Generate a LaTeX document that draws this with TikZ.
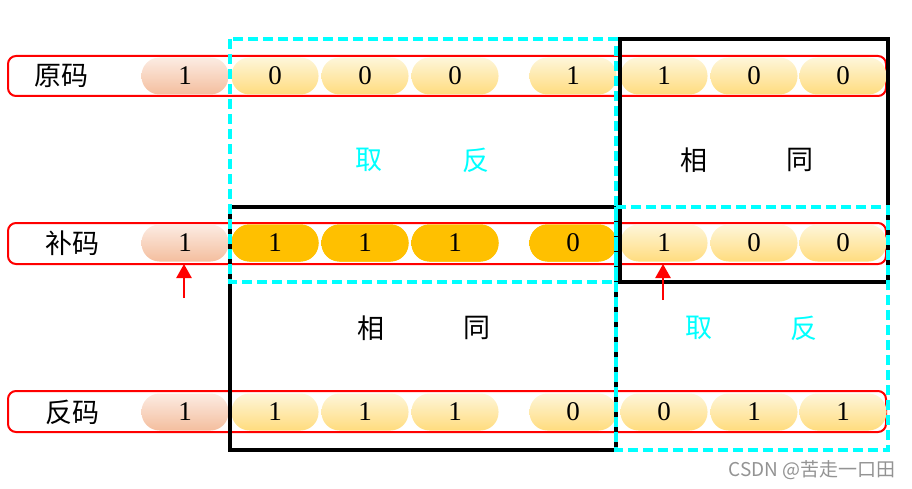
\documentclass[tikz,border=0pt]{standalone}
\usepackage{fontspec}
\setmainfont{Liberation Serif}
\newfontfamily\cjk{Noto Sans CJK SC}
\usetikzlibrary{arrows.meta}

\definecolor{signtop}{HTML}{FCECE3}
\definecolor{signbot}{HTML}{F4BE9E}
\definecolor{bittop}{HTML}{FEF6DA}
\definecolor{bitbot}{HTML}{FFDC7E}
\definecolor{bitfull}{HTML}{FFC000}
\definecolor{aqua}{HTML}{00FFFF}

\tikzset{
  bit/.style={rectangle, rounded corners=18pt, minimum width=87pt,
    minimum height=37pt, inner sep=0pt, top color=bittop,
    bottom color=bitbot, font=\fontsize{27}{27}\selectfont},
  signbit/.style={bit, top color=signtop, bottom color=signbot},
  fullbit/.style={bit, fill=bitfull, top color=bitfull, bottom color=bitfull},
  rowbox/.style={draw=red, line width=2pt, rounded corners=8pt},
  rowname/.style={font=\cjk\fontsize{27}{27}\selectfont},
  opname/.style={font=\cjk\fontsize{27}{27}\selectfont},
  cyanbox/.style={draw=aqua, line width=4pt, dash pattern=on 10pt off 5pt},
  blackbox/.style={draw=black, line width=4pt},
  redarrow/.style={draw=red, line width=2.5pt, -{Triangle[width=15pt,length=14pt]}}
}

\begin{document}
\begin{tikzpicture}[x=1pt,y=-1pt]
\useasboundingbox (0,0) rectangle (912,489);

% Rows
\draw[rowbox] (8,56) rectangle (886,96);
\draw[rowbox] (8,223) rectangle (886,264);
\draw[rowbox] (8,391) rectangle (886,432);
\coordinate (row2) at (447,264);

\node[rowname] (yuan) at (61,76) {原码};
\node[rowname] (bu) at (72,243) {补码};
\node[rowname] (fan) at (72,412) {反码};

% Sign bits
\node[signbit] (yuan0) at (185,76) {1};
\node[signbit] (bu0) at (185,243) {1};
\node[signbit] (fan0) at (185,412) {1};

% Value bits
\foreach \x/\v [count=\i] in {275/0,365/0,455/0,573/1,664/1,754/0,843/0}
  \node[bit] (yuan\i) at (\x,76) {\v};
\foreach \x/\v [count=\i] in {275/1,365/1,455/1,573/0}
  \node[fullbit] (bu\i) at (\x,243) {\v};
\foreach \x/\v [count=\i from 5] in {664/1,754/0,843/0}
  \node[bit] (bu\i) at (\x,243) {\v};
\foreach \x/\v [count=\i] in {275/1,365/1,455/1,573/0,664/0,754/1,843/1}
  \node[bit] (fan\i) at (\x,412) {\v};

% Regions
\draw[blackbox] (620,39) rectangle (888,282);
\draw[blackbox] (230,207) rectangle (616,450);
\draw[cyanbox] (230,39) rectangle (616,282);
\draw[cyanbox] (616,207) rectangle (888,450);

% Operations
\node[opname, text=aqua] (qu1) at (369,160) {取};
\node[opname, text=aqua] (fan1) at (476,160) {反};
\node[opname] (xiang1) at (694,160) {相};
\node[opname] (tong1) at (800,160) {同};
\node[opname] (xiang2) at (371,328) {相};
\node[opname] (tong2) at (477,328) {同};
\node[opname, text=aqua] (qu2) at (699,328) {取};
\node[opname, text=aqua] (fan2) at (804,328) {反};

% Arrows
\coordinate (up1) at (184,298);
\coordinate (up2) at (663,300);
\draw[redarrow] (up1) -- (up1 |- row2);
\draw[redarrow] (up2) -- (up2 |- row2);

% Watermark
\node[font=\cjk\fontsize{19}{19}\selectfont, text=gray!85] (mark) at (812,470) {CSDN @苦走一口田};

\end{tikzpicture}
\end{document}
